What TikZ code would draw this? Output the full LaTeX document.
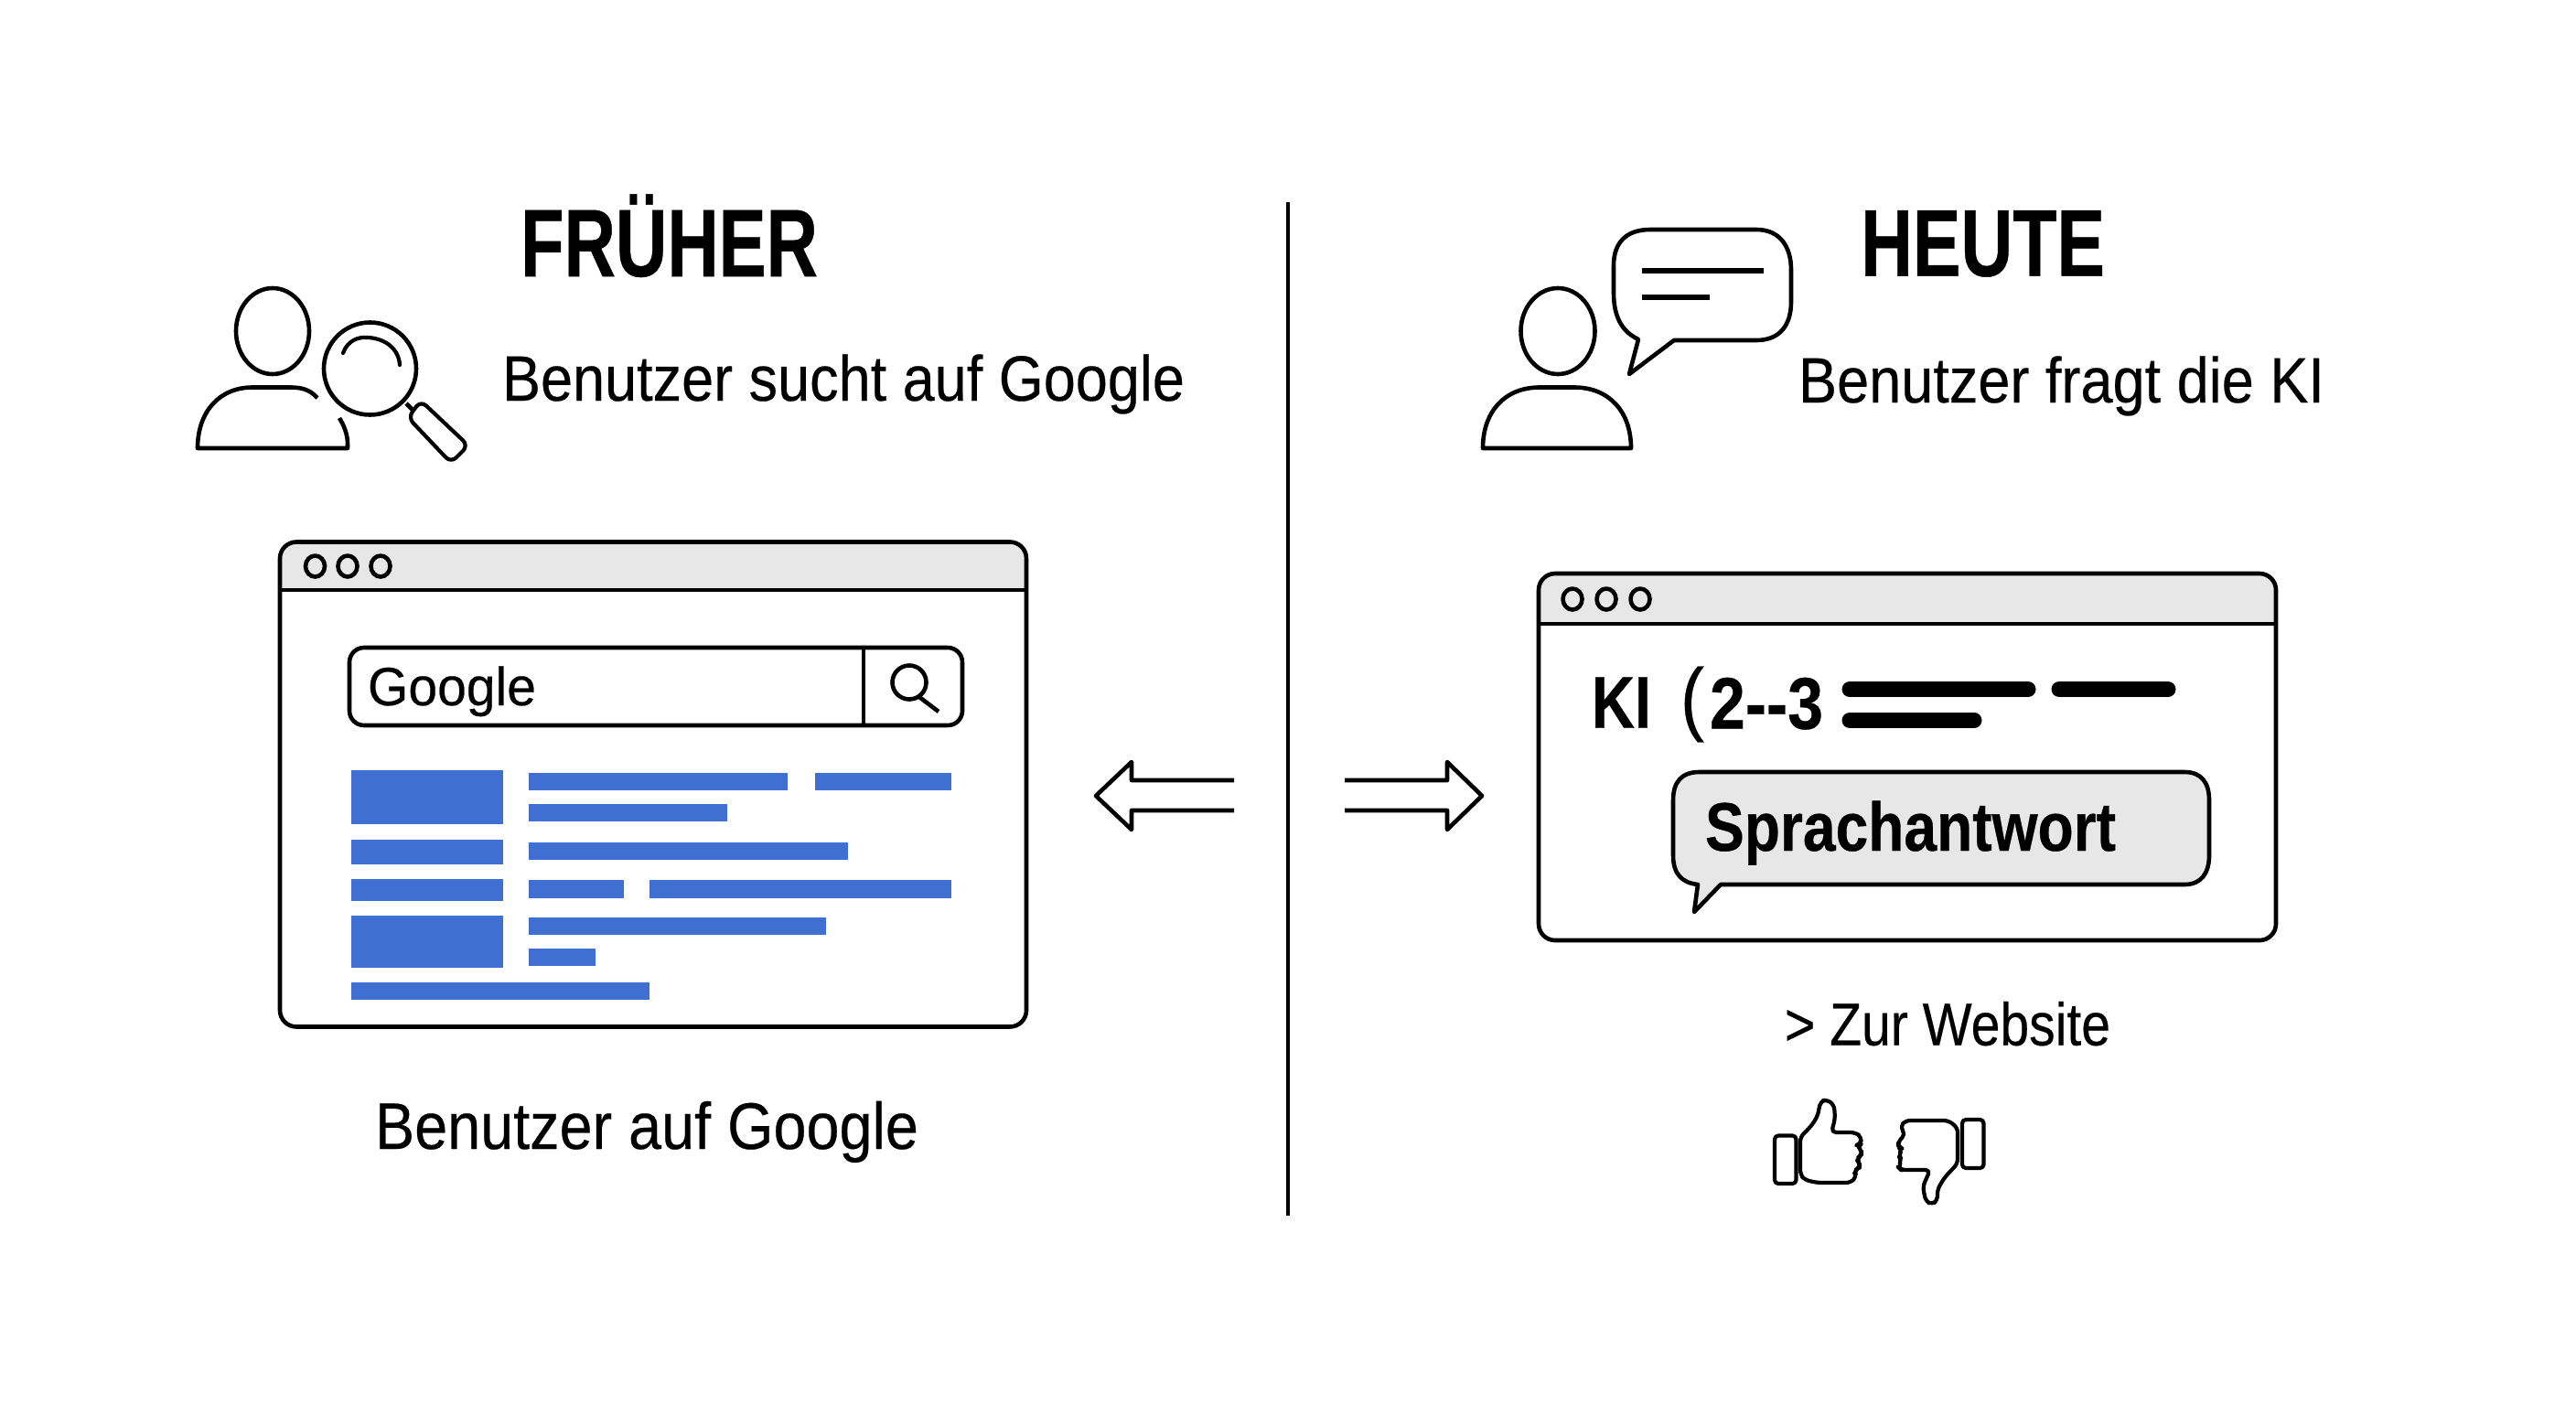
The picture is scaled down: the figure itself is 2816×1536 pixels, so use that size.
\documentclass[tikz,border=0pt]{standalone}
\usepackage{fontspec}
\setmainfont{Liberation Sans}
\newfontfamily\medf[FakeBold=0.35]{Liberation Sans}
\newfontfamily\heavyf[BoldFeatures={FakeBold=0.5}]{Liberation Sans}
\definecolor{barblue}{HTML}{3E6FD1}
\definecolor{hdrgray}{HTML}{E7E7E7}
\newsavebox\fitbox
% #1 font switch, #2 size in pt, #3 width in picture units, #4 text
\newcommand\fittxt[4]{\sbox\fitbox{#1\fontsize{#2}{#2}\selectfont #4}\pgfmathsetmacro\fitr{#3*0.5/(\the\wd\fitbox)}\scalebox{\fitr}[1]{\usebox\fitbox}}
\tikzset{
  txt/.style={anchor=base west,inner sep=0pt,outer sep=0pt,text=black},
  ink/.style={draw=black,line width=2.3pt,line join=round},
  thinink/.style={draw=black,line width=2.1pt,line join=round},
  bar/.style={fill=barblue,draw=none},
  blackbar/.style={draw=black,line width=8.5pt,line cap=round},
  textline/.style={draw=black,line width=3pt},
}
\newcommand\browser[7]{% x1 y1 x2 y2 ybar dotx-list doty
  \fill[white,rounded corners=9pt] (#1,#2) rectangle (#3,#4);
  \begin{scope}
    \clip[rounded corners=9pt] (#1,#2) rectangle (#3,#4);
    \fill[hdrgray] (#1,#2) rectangle (#3,#5);
  \end{scope}
  \draw[ink,rounded corners=9pt] (#1,#2) rectangle (#3,#4);
  \draw[ink] (#1,#5) -- (#3,#5);
  \foreach \dx in {#6} \draw[ink] (\dx,#7) ellipse [x radius=10.5,y radius=11.5];
}
\begin{document}
\begin{tikzpicture}[x=0.5pt,y=-0.5pt]
\useasboundingbox (0,0) rectangle (2816,1536);
\fill[white] (0,0) rectangle (2816,1536);

% divider
\draw[ink] (1408,221) -- (1408,1329);

% titles
\node[txt] (tf) at (569,302) {\fittxt{\heavyf\bfseries}{52.5}{325}{FRÜHER}};
\node[txt] (th) at (2034,301.7) {\fittxt{\heavyf\bfseries}{52}{267}{HEUTE}};
\node[txt] (sl) at (549,438) {\fittxt{\medf}{35}{746}{Benutzer sucht auf Google}};
\node[txt] (sr) at (1966,440) {\fittxt{\medf}{35}{575}{Benutzer fragt die KI}};

% left person
\draw[ink] (298,362) ellipse [x radius=40,y radius=47];
\draw[ink] (347,435) .. controls (338,425) and (328,423.5) .. (317,423.5) -- (276,423.5) .. controls (240,423.5) and (216,450) .. (216,490) -- (380,490) -- (380,485) .. controls (380,475) and (376,465) .. (371,457);
% magnifier
\draw[ink] (404.5,403) circle [radius=50.5];
\draw[thinink,line cap=round] (375,386) .. controls (380,372) and (392,368) .. (402,369) .. controls (422,370) and (436,382) .. (437,399);
\draw[ink] (444,441) -- (452,449);
\draw[thinink,rounded corners=4pt] (460,438) -- (446,456.5) -- (493,506) -- (512,487) -- cycle;

% left browser
\browser{306}{592.5}{1122}{1122.5}{645}{344.5,380,416}{619}
\draw[ink,rounded corners=8pt] (382,708) rectangle (1052,793);
\draw[ink] (944,708) -- (944,793);
\node[txt] (goog) at (402,771) {\fittxt{\medf}{29.5}{184}{Google}};
\draw[ink] (994,746) circle [radius=18.5];
\draw[ink] (1005,762) -- (1026,778);
% result bars
\begin{scope}[yshift=0.4pt]
\fill[bar] (383.6,843) rectangle (550,902);
\fill[bar] (383.6,918.6) rectangle (550,945.7);
\fill[bar] (383.6,961.4) rectangle (550,985.4);
\fill[bar] (383.6,1001.8) rectangle (550,1058.6);
\fill[bar] (383.6,1074.6) rectangle (710,1093.6);
\fill[bar] (577.6,845.4) rectangle (861,864.3);
\fill[bar] (890.5,845.4) rectangle (1040,864.3);
\fill[bar] (577.6,880) rectangle (795,898.6);
\fill[bar] (577.6,921.8) rectangle (927,940.4);
\fill[bar] (577.6,963) rectangle (681.5,982.5);
\fill[bar] (709.6,963) rectangle (1040,982.5);
\fill[bar] (577.6,1004) rectangle (903,1022.9);
\fill[bar] (577.6,1038) rectangle (651,1057);
\end{scope}
\node[txt] (cl) at (410,1256) {\fittxt{\medf}{36}{594}{Benutzer auf Google}};

% arrows
\draw[ink,miter limit=10] (1349,853) -- (1237,853) -- (1237,833) -- (1198,870) -- (1237,907) -- (1237,886) -- (1349,886);
\draw[ink,miter limit=10] (1470,853) -- (1582,853) -- (1582,833) -- (1620,870) -- (1582,907) -- (1582,886) -- (1470,886);

% right person
\draw[ink] (1703,362) ellipse [x radius=40.5,y radius=47];
\draw[ink] (1621,490) .. controls (1621,450) and (1645,423.5) .. (1683,423.5) -- (1721,423.5) .. controls (1759,423.5) and (1783,450) .. (1783,490) -- cycle;
% speech bubble
\draw[ink] (1791,371) .. controls (1772,362) and (1764,345) .. (1764,320) -- (1764,290) .. controls (1764,265) and (1778,251) .. (1804,251) -- (1920,251) .. controls (1946,251) and (1958,270) .. (1958,295) -- (1958,330) .. controls (1958,355) and (1946,372) .. (1920,372) -- (1830,372) -- (1781,409) -- cycle;
\draw[textline] (1795,296) -- (1928,296);
\draw[textline] (1795,325) -- (1869,325);

% right browser
\browser{1682}{627}{2488}{1028}{682}{1719,1756,1793}{655}
\node[txt] (ki) at (1740,795.7) {\fittxt{\heavyf\bfseries}{40}{65}{KI}};
\node[txt] (par) at (1837,793) {\fittxt{\medf}{44.5}{26}{(}};
\node[txt] (nums) at (1869,796.7) {\fittxt{\heavyf\bfseries}{40}{124}{2-{}-3}};
\draw[blackbar] (2022,753.6) -- (2217,753.6);
\draw[blackbar] (2251,753.6) -- (2370,753.6);
\draw[blackbar] (2022,787.5) -- (2158,787.5);
% answer bubble
\draw[ink,fill=hdrgray] (1856,967) .. controls (1838,965) and (1829,955) .. (1829,935) -- (1829,875) .. controls (1829,855) and (1838,844) .. (1858,844) -- (2388,844) .. controls (2406,844) and (2415,855) .. (2415,875) -- (2415,935) .. controls (2415,955) and (2406,967) .. (2388,967) -- (1881,967) -- (1852,997) -- cycle;
\node[txt] (ans) at (1864,930) {\fittxt{\heavyf\bfseries}{37.5}{449}{Sprachantwort}};

% website link
\node[txt] (web) at (1951,1142.7) {\fittxt{\medf}{33}{356}{> Zur Website}};

% thumbs
\draw[thinink,rounded corners=2pt] (1940,1241.5) rectangle (1963.5,1294);
\draw[thinink,rounded corners=2.5pt] (1968,1284) -- (1968,1243) -- (1980,1231) -- (1987,1220) -- (1990,1204) -- (1997,1202) -- (2005,1208) -- (2006,1223) -- (2002,1238) -- (2028,1238) -- (2035,1243) -- (2034,1251) -- (2030,1252) -- (2035,1258) -- (2035,1263) -- (2029,1267) -- (2033,1272) -- (2033,1277) -- (2026,1280) -- (2030,1286) -- (2023,1293) -- (1987,1293) -- (1973,1290) -- cycle;
\draw[thinink,rounded corners=2pt] (2145,1224) rectangle (2168.5,1277);
\draw[thinink,rounded corners=2.5pt] (2140,1233) -- (2130,1225) -- (2083,1225) -- (2077,1232) -- (2083,1240) -- (2075,1248) -- (2075,1254) -- (2080,1256) -- (2075,1263) -- (2079,1268) -- (2075,1276) -- (2078,1279) -- (2110,1279) -- (2102,1297) -- (2105,1313) -- (2112,1317) -- (2118,1312) -- (2118,1300) -- (2126,1287) -- (2140,1272) -- cycle;
\end{tikzpicture}
\end{document}
